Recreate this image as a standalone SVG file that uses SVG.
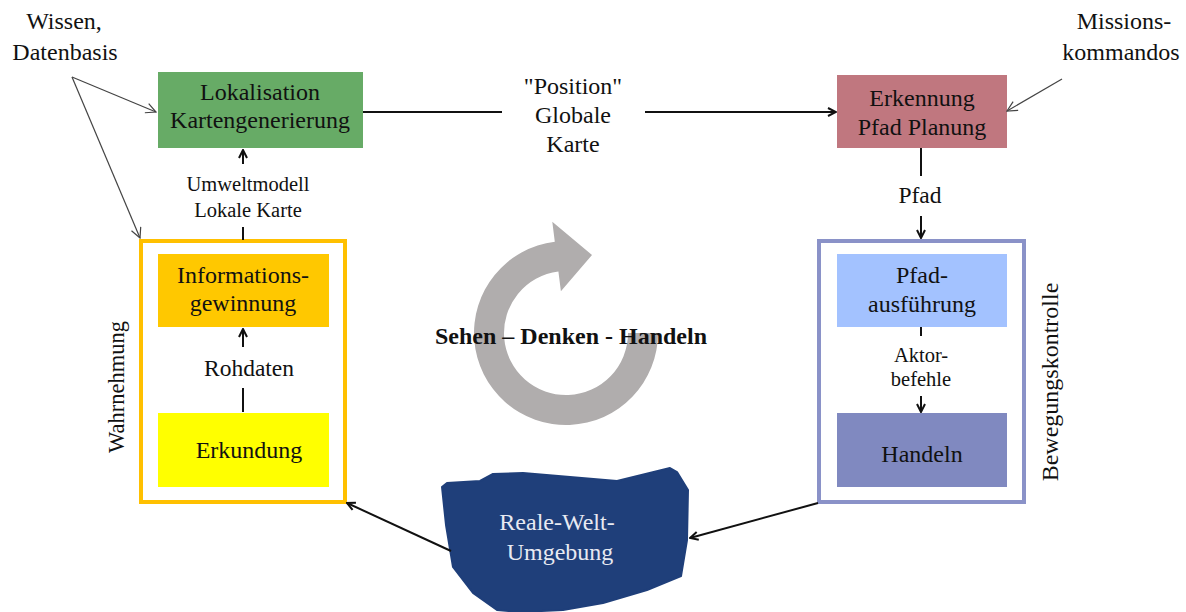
<svg xmlns="http://www.w3.org/2000/svg" width="1186" height="612" viewBox="0 0 1186 612">
<defs>
<style>
text{font-family:"Liberation Serif","Times New Roman",serif;fill:#111;text-anchor:middle}
.t24{font-size:24px}
.t23{font-size:23.5px}
.t20{font-size:20.5px}
.c{stroke:#111;stroke-width:2;fill:none}
.thin{stroke:#444;stroke-width:1.2;fill:none}
</style>
<marker id="ah" viewBox="0 0 10 10" refX="9" refY="5" markerWidth="10" markerHeight="10" markerUnits="userSpaceOnUse" orient="auto">
<path d="M1,1 L9,5 L1,9" fill="none" stroke="#111" stroke-width="2"/>
</marker>
<marker id="aht" viewBox="0 0 12 12" refX="11" refY="6" markerWidth="12" markerHeight="12" markerUnits="userSpaceOnUse" orient="auto">
<path d="M1,1 L11,6 L1,11" fill="none" stroke="#444" stroke-width="1.2"/>
</marker>
</defs>
<rect width="1186" height="612" fill="#fff"/>

<g id="cycle">
<path d="M658 333 A92 92 0 1 1 554.8 241.7 L552.3 221.8 L592 255 L560.9 291.3 L558.4 271.5 A62 62 0 1 0 628 333 Z" fill="#b0adad"/>
<text x="571" y="344" style="font-size:24px;font-weight:bold">Sehen – Denken - Handeln</text>
</g>

<g id="wissen">
<text class="t24" x="64" y="29">Wissen,</text>
<text class="t24" x="65" y="60">Datenbasis</text>
</g>
<g id="missionen">
<text class="t24" x="1124" y="29">Missions-</text>
<text class="t24" x="1121" y="60">kommandos</text>
</g>

<g id="lokalisation">
<rect x="158" y="72" width="205" height="76" fill="#67ab66"/>
<text class="t24" x="260" y="100">Lokalisation</text>
<text class="t24" x="260" y="128">Kartengenerierung</text>
</g>

<g id="erkennung">
<rect x="837" y="75" width="170" height="73" fill="#c0777f"/>
<text class="t24" x="922" y="106">Erkennung</text>
<text class="t24" x="922" y="135">Pfad Planung</text>
</g>

<g id="wahrnehmung">
<rect x="141" y="241" width="204" height="261" fill="none" stroke="#ffc000" stroke-width="4"/>
<text transform="translate(124,387) rotate(-90)" style="font-size:22.5px">Wahrnehmung</text>
</g>
<g id="informationsgewinnung">
<rect x="158" y="254" width="171" height="73" fill="#ffc800"/>
<text class="t24" x="243" y="283">Informations-</text>
<text class="t24" x="243" y="311">gewinnung</text>
</g>
<g id="erkundung">
<rect x="158" y="413" width="171" height="74" fill="#ffff00"/>
<text class="t24" x="249" y="458">Erkundung</text>
</g>

<g id="bewegungskontrolle">
<rect x="819" y="241" width="205" height="261" fill="none" stroke="#8a92c8" stroke-width="4"/>
<text class="t24" transform="translate(1058,382) rotate(-90)">Bewegungskontrolle</text>
</g>
<g id="pfadausfuehrung">
<rect x="837" y="254" width="170" height="73" fill="#a3c2ff"/>
<text class="t24" x="922" y="283">Pfad-</text>
<text class="t24" x="922" y="312">ausführung</text>
</g>
<g id="handeln">
<rect x="837" y="413" width="170" height="74" fill="#8089c0"/>
<text class="t24" x="922" y="462">Handeln</text>
</g>

<g id="umgebung">
<path d="M442 487 L447 483 L480 481 L493 474 L523 473 L570 477 L617 481 L670 468 L677 472 L688 490 L687 540 L681 576 L647 590 L603 603 L563 610 L520 612 L497 610 L473 593 L453 567 L446 525 Z" fill="#1f3f7a" stroke="#1f3f7a" stroke-width="2" stroke-linejoin="round"/>
<text class="t24" x="557" y="530" style="fill:#e8eaf2">Reale-Welt-</text>
<text class="t24" x="560" y="560" style="fill:#e8eaf2">Umgebung</text>
</g>

<g id="connectors">
<line class="thin" x1="72" y1="77" x2="156" y2="112" marker-end="url(#aht)"/>
<line class="thin" x1="72" y1="77" x2="140" y2="238" marker-end="url(#aht)"/>
<line class="thin" x1="1062" y1="79" x2="1007" y2="111" marker-end="url(#aht)"/>
<line class="c" x1="363" y1="112" x2="502" y2="112"/>
<line class="c" x1="645" y1="112" x2="836" y2="112" marker-end="url(#ah)"/>
<line class="c" x1="921" y1="148" x2="921" y2="176"/>
<line class="c" x1="921" y1="216" x2="921" y2="238" marker-end="url(#ah)"/>
<line class="c" x1="921" y1="327" x2="921" y2="336"/>
<line class="c" x1="921" y1="396" x2="921" y2="412" marker-end="url(#ah)"/>
<line class="c" x1="243" y1="240" x2="243" y2="227"/>
<line class="c" x1="243" y1="164" x2="243" y2="150" marker-end="url(#ah)"/>
<line class="c" x1="243" y1="412" x2="243" y2="388"/>
<line class="c" x1="243" y1="347" x2="243" y2="329" marker-end="url(#ah)"/>
<line class="c" x1="451" y1="551" x2="347" y2="503" marker-end="url(#ah)"/>
<line class="c" x1="818" y1="503" x2="690" y2="538" marker-end="url(#ah)"/>
<text class="t20" x="248" y="191">Umweltmodell</text>
<text class="t20" x="248" y="217">Lokale Karte</text>
<text class="t24" x="573" y="94">"Position"</text>
<text class="t24" x="573" y="123">Globale</text>
<text class="t24" x="573" y="152">Karte</text>
<text class="t23" x="920" y="203">Pfad</text>
<text class="t23" x="249" y="376">Rohdaten</text>
<text class="t20" x="921" y="362">Aktor-</text>
<text class="t20" x="921" y="386">befehle</text>
</g>
</svg>
